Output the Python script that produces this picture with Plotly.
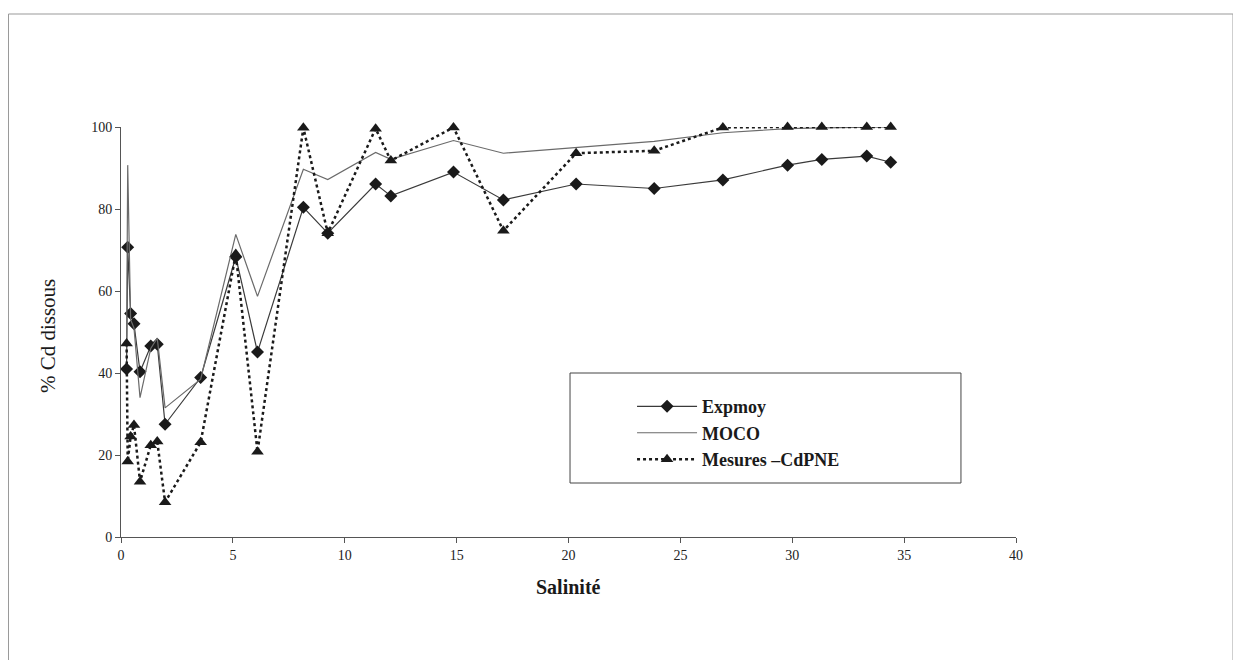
import plotly.graph_objects as go

salinite = [0.25, 0.3, 0.43, 0.58, 0.85, 1.33, 1.62, 1.97, 3.56, 5.13, 6.1, 8.15, 9.24,
            11.38, 12.06, 14.86, 17.09, 20.34, 23.83, 26.9, 29.79, 31.32, 33.33, 34.4]
expmoy = [41, 70.7, 54.5, 52, 40.3, 46.6, 47, 27.5, 38.9, 68.3, 45.1, 80.4, 74.1,
          86.1, 83.2, 89.0, 82.2, 86.1, 85.0, 87.1, 90.7, 92.1, 92.9, 91.4]
moco = [47, 90.7, 53, 51, 34, 46, 48.5, 31.5, 38.5, 73.8, 58.7, 89.7, 87.2,
        93.8, 92.1, 96.7, 93.6, 95.0, 96.5, 98.6, 99.6, 99.8, 100, 100]
mesures = [47.2, 18.4, 24.5, 27.3, 13.5, 22.4, 23.3, 8.5, 23.1, 69.0, 20.8, 99.8, 74.1,
           99.6, 91.8, 99.9, 74.7, 93.6, 94.2, 99.9, 100, 100, 100, 100]

x_ticks = [0, 5, 10, 15, 20, 25, 30, 35, 40]
y_ticks = [0, 20, 40, 60, 80, 100]

serif = "Liberation Serif"

fig = go.Figure()
fig.add_trace(go.Scatter(
    x=salinite, y=expmoy, name="<b>Expmoy</b>", mode="lines+markers",
    line=dict(color="#3a3a3a", width=1.2),
    marker=dict(symbol="diamond", size=10, color="#1a1a1a"),
    cliponaxis=False))
fig.add_trace(go.Scatter(
    x=salinite, y=moco, name="<b>MOCO</b>", mode="lines",
    line=dict(color="#6a6a6a", width=1.2),
    cliponaxis=False))
fig.add_trace(go.Scatter(
    x=salinite, y=mesures, name="<b>Mesures –CdPNE</b>", mode="lines+markers",
    line=dict(color="#1a1a1a", width=2.5, dash="dot"),
    marker=dict(symbol="triangle-up", size=11, color="#1a1a1a"),
    cliponaxis=False))

fig.update_layout(
    width=1225, height=652,
    margin=dict(l=113, r=217, t=119, b=123),
    paper_bgcolor="white", plot_bgcolor="white",
    font=dict(family=serif, color="#222", size=13),
    showlegend=True,
    legend=dict(x=0.571, y=0.363, xanchor="left", yanchor="top",
                bgcolor="rgba(0,0,0,0)", borderwidth=0, itemwidth=60,
                font=dict(family=serif, size=18, color="#1a1a1a"),
                tracegroupgap=0),
    xaxis=dict(range=[0, 40], tickvals=x_ticks, ticktext=[str(v) for v in x_ticks],
               showgrid=False, zeroline=False, showline=True, linecolor="#555",
               linewidth=1, ticks="outside", ticklen=5, tickcolor="#555",
               tickfont=dict(family=serif, size=14, color="#222")),
    yaxis=dict(range=[0, 100], tickvals=y_ticks, ticktext=[str(v) for v in y_ticks],
               showgrid=False, zeroline=False, showline=True, linecolor="#555",
               linewidth=1, ticks="outside", ticklen=5, tickcolor="#555",
               tickfont=dict(family=serif, size=14, color="#222")),
    shapes=[
        dict(type="rect", xref="paper", yref="paper", x0=-0.1257, x1=1.2425,
             y0=-0.40, y1=1.2756, line=dict(color="#999", width=1)),
        dict(type="rect", xref="paper", yref="paper", x0=0.5017, x1=0.9385,
             y0=0.1317, y1=0.40, line=dict(color="#444", width=1)),
    ],
    annotations=[
        dict(text="<b>Salinité</b>", xref="paper", yref="paper", x=0.5, y=-0.122,
             xanchor="center", yanchor="middle", showarrow=False,
             font=dict(family=serif, size=20, color="#1a1a1a")),
        dict(text="% Cd dissous", xref="paper", yref="paper", x=-0.0816, y=0.49,
             xanchor="center", yanchor="middle", showarrow=False, textangle=-90,
             font=dict(family=serif, size=21, color="#1a1a1a")),
    ],
)

fig.write_html("out.html")
